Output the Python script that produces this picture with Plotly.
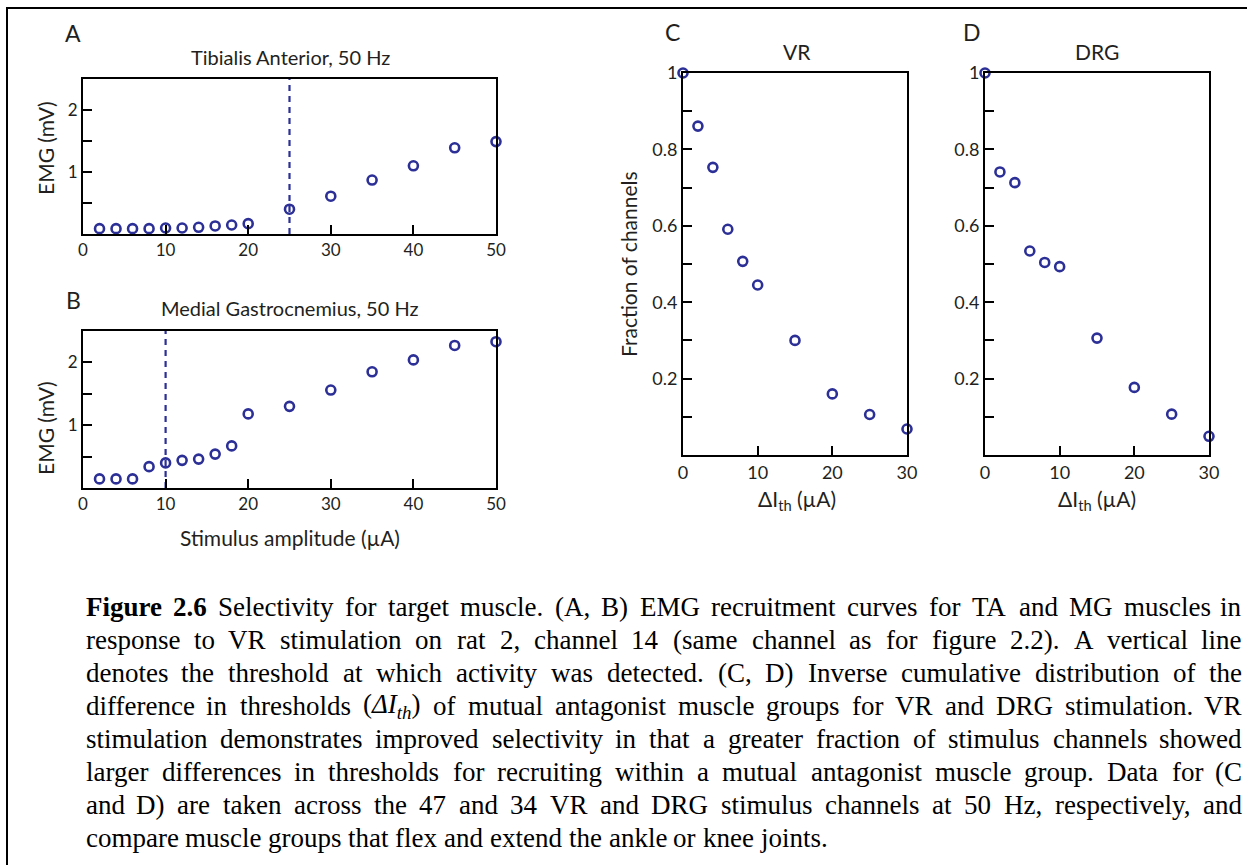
import plotly.graph_objects as go

W, H = 1247, 865

# ---------------- data ----------------
amp = [2, 4, 6, 8, 10, 12, 14, 16, 18, 20, 25, 30, 35, 40, 45, 50]
ta_emg = [0.086, 0.086, 0.086, 0.086, 0.097, 0.097, 0.108, 0.13, 0.145, 0.167,
          0.40, 0.61, 0.87, 1.10, 1.39, 1.49]
mg_emg = [0.145, 0.145, 0.145, 0.34, 0.40, 0.44, 0.46, 0.54, 0.67, 1.18,
          1.30, 1.56, 1.85, 2.04, 2.27, 2.33]
ta_threshold = 25
mg_threshold = 10

dith = [0, 2, 4, 6, 8, 10, 15, 20, 25, 30]
vr_frac = [1.0, 0.861, 0.753, 0.591, 0.507, 0.445, 0.30, 0.16, 0.106, 0.068]
drg_frac = [1.0, 0.741, 0.713, 0.534, 0.504, 0.493, 0.306, 0.177, 0.107, 0.049]

emg_tickvals = [1, 2]
emg_ticktext = ["1", "2"]
amp_ticks = [0, 10, 20, 30, 40, 50]
frac_tickvals = [0.2, 0.4, 0.6, 0.8, 1.0]
frac_ticktext = ["0.2", "0.4", "0.6", "0.8", "1"]
dith_ticks = [0, 10, 20, 30]

caption_lines = [
    "Figure 2.6 Selectivity for target muscle. (A, B) EMG recruitment curves for TA and MG muscles in",
    "response to VR stimulation on rat 2, channel 14 (same channel as for figure 2.2). A vertical line",
    "denotes the threshold at which activity was detected. (C, D) Inverse cumulative distribution of the",
    "difference in thresholds (ΔIth) of mutual antagonist muscle groups for VR and DRG stimulation. VR",
    "stimulation demonstrates improved selectivity in that a greater fraction of stimulus channels showed",
    "larger differences in thresholds for recruiting within a mutual antagonist muscle group. Data for (C",
    "and D) are taken across the 47 and 34 VR and DRG stimulus channels at 50 Hz, respectively, and",
    "compare muscle groups that flex and extend the ankle or knee joints.",
]

# ---------------- style ----------------
BLUE = "#2b2f96"
INK = "#231f20"
SANS = "Lato"
SERIF = "Liberation Serif"


def fx(px):
    return px / W


def fy(py):
    return 1 - py / H


fig = go.Figure()

panels = {
    # name: (x0, x1, ytop, ybottom) in pixels
    "A": (83, 496, 79, 234),
    "B": (83, 496, 331, 488),
    "C": (683, 907, 73, 455),
    "D": (985, 1209, 73, 455),
}

series = [
    ("A", amp, ta_emg),
    ("B", amp, mg_emg),
    ("C", dith, vr_frac),
    ("D", dith, drg_frac),
]
for i, (name, xs, ys) in enumerate(series):
    suf = "" if i == 0 else str(i + 1)
    fig.add_trace(go.Scatter(
        x=xs, y=ys, mode="markers", xaxis="x" + suf, yaxis="y" + suf,
        marker=dict(symbol="circle-open", size=9, color=BLUE, line=dict(width=2.6, color=BLUE)),
        cliponaxis=False, showlegend=False, hoverinfo="x+y"))

# dashed threshold lines
for i, thr in [(0, ta_threshold), (1, mg_threshold)]:
    suf = "" if i == 0 else str(i + 1)
    fig.add_trace(go.Scatter(
        x=[thr, thr], y=[0, 2.5], mode="lines", xaxis="x" + suf, yaxis="y" + suf,
        line=dict(color=BLUE, width=2.2, dash="6px,5px"), showlegend=False, hoverinfo="skip"))

axis_common = dict(showline=True, linecolor="black", linewidth=2, mirror=True,
                   ticks="inside", ticklen=9, tickwidth=2, tickcolor="black",
                   showgrid=False, zeroline=False, fixedrange=True, automargin=False)
minor_common = dict(ticks="inside", ticklen=9, tickwidth=2, tickcolor="black", showgrid=False)

layout = dict(width=W, height=H, margin=dict(l=0, r=0, t=0, b=0, pad=0, autoexpand=False),
              paper_bgcolor="white", plot_bgcolor="white", showlegend=False)

for i, name in enumerate(["A", "B", "C", "D"]):
    x0, x1, yt, yb = panels[name]
    kx = "xaxis" if i == 0 else "xaxis%d" % (i + 1)
    ky = "yaxis" if i == 0 else "yaxis%d" % (i + 1)
    sx = "x" if i == 0 else "x%d" % (i + 1)
    sy = "y" if i == 0 else "y%d" % (i + 1)
    if name in ("A", "B"):
        xa = dict(axis_common, domain=[fx(x0), fx(x1)], range=[0, 50], tickvals=amp_ticks,
                  anchor=sy, tickfont=dict(family=SANS, size=17, color=INK))
        ya = dict(axis_common, domain=[fy(yb), fy(yt)], range=[0, 2.5], tickvals=emg_tickvals,
                  ticktext=emg_ticktext, anchor=sx, tickfont=dict(family=SANS, size=17, color=INK),
                  minor=dict(minor_common, tick0=0, dtick=0.5))
    else:
        xa = dict(axis_common, domain=[fx(x0), fx(x1)], range=[0, 30], tickvals=dith_ticks,
                  anchor=sy, tickfont=dict(family=SANS, size=18, color=INK))
        ya = dict(axis_common, domain=[fy(yb), fy(yt)], range=[0, 1], tickvals=frac_tickvals,
                  ticktext=frac_ticktext, anchor=sx, tickfont=dict(family=SANS, size=18, color=INK),
                  minor=dict(minor_common, tick0=0, dtick=0.1))
    layout[kx] = xa
    layout[ky] = ya

fig.update_layout(**layout)

ann = []


def text_at(px, py, txt, size, family=SANS, angle=0, xanchor="center", yanchor="middle", color=INK):
    ann.append(dict(x=fx(px), y=fy(py), xref="paper", yref="paper", text=txt, showarrow=False,
                    font=dict(family=family, size=size, color=color), textangle=angle,
                    xanchor=xanchor, yanchor=yanchor, borderpad=0))


# panel letters and titles
text_at(73, 33, "A", 23)
text_at(290, 57, "Tibialis Anterior, 50 Hz", 20)
text_at(73, 300, "B", 23)
text_at(290, 308, "Medial Gastrocnemius, 50 Hz", 20)
text_at(672, 32, "C", 23)
text_at(797, 52, "VR", 21)
text_at(972, 32, "D", 23)
text_at(1097, 52, "DRG", 21)
# axis titles
text_at(45, 148, "EMG (mV)", 21, angle=-90)
text_at(45, 428, "EMG (mV)", 21, angle=-90)
text_at(290, 537, "Stimulus amplitude (µA)", 21)
text_at(628, 264, "Fraction of channels", 21, angle=-90)
text_at(797, 500, "ΔI<sub>th</sub> (µA)", 21)
text_at(1097, 500, "ΔI<sub>th</sub> (µA)", 21)

# ---------------- caption (justified, word by word) ----------------
TR = {' ': 250, '!': 333, '(': 333, ')': 333, ',': 250, '-': 333, '.': 250, ':': 278, ';': 278,
      'A': 722, 'B': 667, 'C': 667, 'D': 722, 'E': 611, 'F': 556, 'G': 722, 'H': 722, 'I': 333,
      'J': 389, 'K': 722, 'L': 611, 'M': 889, 'N': 722, 'O': 722, 'P': 556, 'Q': 722, 'R': 667,
      'S': 556, 'T': 611, 'U': 722, 'V': 722, 'W': 944, 'X': 722, 'Y': 722, 'Z': 611,
      'a': 444, 'b': 500, 'c': 444, 'd': 500, 'e': 444, 'f': 333, 'g': 500, 'h': 500, 'i': 278,
      'j': 278, 'k': 500, 'l': 278, 'm': 778, 'n': 500, 'o': 500, 'p': 500, 'q': 500, 'r': 333,
      's': 389, 't': 278, 'u': 500, 'v': 500, 'w': 722, 'x': 500, 'y': 500, 'z': 444}
TB = {'F': 611, 'i': 278, 'g': 500, 'u': 556, 'r': 444, 'e': 444, '2': 500, '.': 250, '6': 500}


def wunits(word, table):
    return sum(table.get(c, 500) for c in word)


CAP_SIZE = 27
CAP_LEFT, CAP_RIGHT = 85, 1243
CAP_Y0, CAP_DY = 607, 33

for li, line in enumerate(caption_lines):
    words = line.split(" ")
    toks = []
    for wi, w in enumerate(words):
        if li == 0 and wi < 2:
            toks.append(("<b>%s</b>" % w, wunits(w, TB)))
        elif w == "(ΔIth)":
            toks.append(("(<i>ΔI<sub>th</sub></i>)", 333 + 612 + 333 + 0.7 * 778 + 333))
        else:
            toks.append((w, wunits(w, TR)))
    py = CAP_Y0 + li * CAP_DY
    widths = [t[1] * CAP_SIZE / 1000 for t in toks]
    last = li == len(caption_lines) - 1
    if last:
        gap = 250 * CAP_SIZE / 1000
    else:
        gap = (CAP_RIGHT - CAP_LEFT - sum(widths)) / (len(toks) - 1)
    xpos = CAP_LEFT
    for ti, (html, _) in enumerate(toks):
        wpx = widths[ti]
        if ti == 0:
            text_at(xpos, py, html, CAP_SIZE, family=SERIF, xanchor="left", color="black")
        elif ti == len(toks) - 1 and not last:
            text_at(CAP_RIGHT, py, html, CAP_SIZE, family=SERIF, xanchor="right", color="black")
        else:
            text_at(xpos + wpx / 2, py, html, CAP_SIZE, family=SERIF, xanchor="center", color="black")
        xpos += wpx + gap

fig.update_layout(annotations=ann)

# frame lines (top and left)
fig.update_layout(shapes=[
    dict(type="line", xref="paper", yref="paper", x0=fx(6), x1=fx(1247), y0=fy(8), y1=fy(8),
         line=dict(color="black", width=2)),
    dict(type="line", xref="paper", yref="paper", x0=fx(7), x1=fx(7), y0=fy(8), y1=fy(865),
         line=dict(color="black", width=2)),
])

fig.write_html("out.html")
